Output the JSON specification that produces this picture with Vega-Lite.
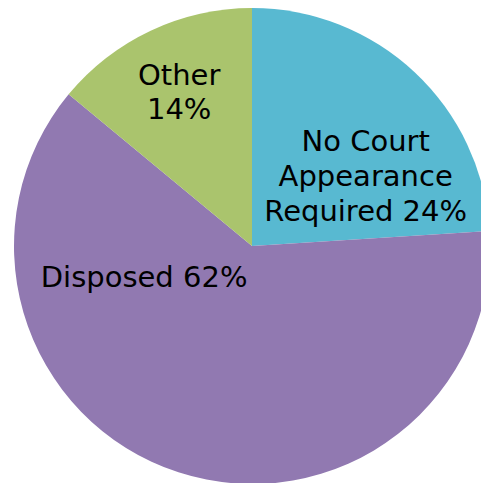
{
  "$schema": "https://vega.github.io/schema/vega-lite/v6.json",
  "width": 504,
  "height": 492,
  "autosize": "none",
  "padding": 0,
  "background": "white",
  "view": {"stroke": null},
  "data": {
    "values": [
      {"category": "No Court Appearance Required", "pct": 24, "rank": 1, "label": ["No Court", "Appearance", "Required 24%"]},
      {"category": "Disposed", "pct": 62, "rank": 2, "label": ["Disposed 62%"]},
      {"category": "Other", "pct": 14, "rank": 3, "label": ["Other", "14%"]}
    ]
  },
  "encoding": {
    "theta": {"field": "pct", "type": "quantitative", "stack": true},
    "order": {"field": "rank", "type": "quantitative"}
  },
  "layer": [
    {
      "mark": {"type": "arc", "outerRadius": 238},
      "encoding": {
        "color": {
          "field": "category",
          "type": "nominal",
          "scale": {
            "domain": ["No Court Appearance Required", "Disposed", "Other"],
            "range": ["#58B9D1", "#9179B1", "#AAC46D"]
          },
          "legend": null
        }
      }
    },
    {
      "mark": {"type": "text", "radius": 171, "dy": -15, "font": "DejaVu Sans", "fontSize": 29, "lineHeight": 34, "align": "center", "baseline": "middle", "color": "black"},
      "encoding": {"text": {"condition": {"test": "datum.category === 'Other'", "field": "label"}, "value": ""}}
    },
    {
      "mark": {"type": "text", "radius": 150, "dx": 11, "dy": 5, "font": "DejaVu Sans", "fontSize": 29, "lineHeight": 35, "align": "center", "baseline": "middle", "color": "black"},
      "encoding": {"text": {"condition": {"test": "datum.category === 'No Court Appearance Required'", "field": "label"}, "value": ""}}
    },
    {
      "mark": {"type": "text", "radius": 100, "dx": -77, "dy": -63, "font": "DejaVu Sans", "fontSize": 29, "lineHeight": 34, "align": "center", "baseline": "middle", "color": "black"},
      "encoding": {"text": {"condition": {"test": "datum.category === 'Disposed'", "field": "label"}, "value": ""}}
    }
  ]
}
